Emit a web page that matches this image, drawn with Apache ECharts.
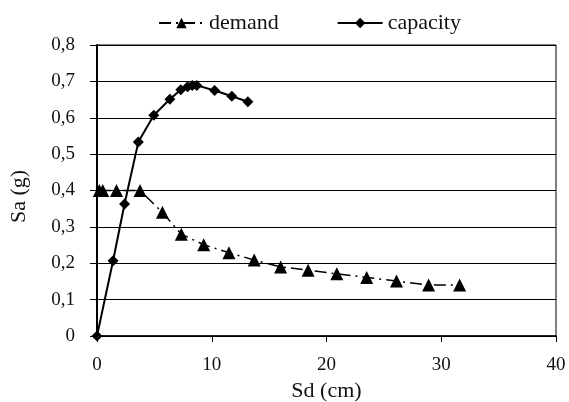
<!DOCTYPE html>
<html>
<head>
<meta charset="utf-8">
<script src="https://cdn.jsdelivr.net/npm/echarts@6/dist/echarts.min.js"></script>
<style>
  html, body { margin: 0; padding: 0; background: #fff; }
  #chart { width: 569px; height: 402px; }
</style>
</head>
<body>
<div id="chart"></div>
<script>
// demand spectrum (Sd in cm, Sa in g)
var demandSd = [0.2, 0.5, 1.7, 3.75, 5.7, 7.35, 9.3, 11.5, 13.7, 16.0, 18.4, 20.9, 23.5, 26.1, 28.9, 31.6];
var demandSa = [0.4, 0.4, 0.4, 0.4, 0.34, 0.28, 0.251, 0.229, 0.209, 0.19, 0.181, 0.171, 0.161, 0.151, 0.14, 0.14];

// capacity curve
var capacitySd = [0, 1.4, 2.4, 3.6, 4.95, 6.35, 7.3, 7.9, 8.3, 8.7, 10.25, 11.75, 13.15];
var capacitySa = [0, 0.207, 0.363, 0.533, 0.607, 0.651, 0.677, 0.685, 0.689, 0.689, 0.675, 0.659, 0.644];

var xTicks = [0, 10, 20, 30, 40];
var yTicks = [0, 0.1, 0.2, 0.3, 0.4, 0.5, 0.6, 0.7, 0.8];

function zip(a, b) {
  return a.map(function (v, i) { return [v, b[i]]; });
}

var font = "'Liberation Serif', 'DejaVu Serif', serif";

var chart = echarts.init(document.getElementById("chart"));
var option = {
  animation: false,
  textStyle: { fontFamily: font, color: "#111" },
  legend: {
    top: 7,
    left: 153,
    itemWidth: 45,
    itemHeight: 13,
    itemGap: 58,
    textStyle: { fontFamily: font, fontSize: 22, color: "#111" },
    data: ["demand", "capacity"]
  },
  grid: {
    left: 97,
    right: 13,
    top: 45,
    bottom: 66,
    outerBoundsMode: "none",
    show: true,
    borderColor: "#000",
    borderWidth: 1
  },
  xAxis: {
    type: "value",
    min: xTicks[0],
    max: xTicks[xTicks.length - 1],
    interval: 10,
    name: "Sd (cm)",
    nameLocation: "middle",
    nameGap: 44,
    nameTextStyle: { fontFamily: font, fontSize: 22, color: "#111" },
    axisLine: { lineStyle: { color: "#000", width: 1.5 } },
    axisTick: { show: true, length: 6, lineStyle: { color: "#000" } },
    axisLabel: { fontFamily: font, fontSize: 19, color: "#111", margin: 20 },
    splitLine: { show: false }
  },
  yAxis: {
    type: "value",
    min: yTicks[0],
    max: yTicks[yTicks.length - 1],
    interval: 0.1,
    name: "Sa (g)",
    nameLocation: "middle",
    nameGap: 67,
    nameRotate: 90,
    nameTextStyle: { fontFamily: font, fontSize: 22, color: "#111", padding: [0, 12, 0, 0] },
    axisLine: { show: true, lineStyle: { color: "#000", width: 2 } },
    axisTick: { show: true, length: 7, lineStyle: { color: "#000" } },
    axisLabel: {
      fontFamily: font,
      fontSize: 19,
      color: "#111",
      margin: 22,
      formatter: function (v) {
        return v === 0 ? "0" : v.toFixed(1).replace(".", ",");
      }
    },
    splitLine: { show: true, lineStyle: { color: "#000", width: 1 } }
  },
  series: [
    {
      name: "demand",
      type: "line",
      data: zip(demandSd, demandSa),
      symbol: "triangle",
      symbolSize: 13,
      itemStyle: { color: "#000" },
      lineStyle: { color: "#000", width: 1.5, type: [12, 5, 2, 5] },
      z: 3
    },
    {
      name: "capacity",
      type: "line",
      data: zip(capacitySd, capacitySa),
      symbol: "diamond",
      symbolSize: 11,
      itemStyle: { color: "#000" },
      lineStyle: { color: "#000", width: 2 },
      z: 4
    }
  ]
};
chart.setOption(option);
window.addEventListener("resize", function () {
  chart.resize();
});
</script>
</body>
</html>
